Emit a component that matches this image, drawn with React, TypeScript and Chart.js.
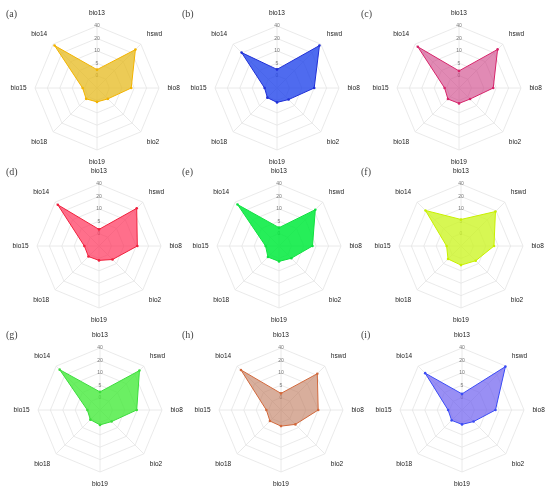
import React, { useEffect, useRef } from 'react';
import { Chart, registerables, RadialLinearScale } from 'chart.js';

Chart.register(...registerables);

// ---- data ----
const AXES = ['bio13', 'hswd', 'bio8', 'bio2', 'bio19', 'bio18', 'bio15', 'bio14'];
const TICK_LABELS = ['0', '5', '10', '20', '40'];
const TICK_VALUES = [-5, 0, 5, 10, 20, 40]; // first = centre of the plot

const PANEL_IDS = ['(a)', '(b)', '(c)', '(d)', '(e)', '(f)', '(g)', '(h)', '(i)'];

const A_VALUES = [2.4, 27.6, 8.8, 1.2, 0.6, 1.2, 0.8, 36.8];
const B_VALUES = [2.5, 36.8, 10.0, 1.6, 0.8, 0.5, 0.0, 20.8];
const C_VALUES = [1.9, 28.0, 8.8, 1.3, 1.2, 1.3, 0.8, 34.0];
const D_VALUES = [1.7, 26.0, 10.9, 2.7, 0.8, 1.0, 0.9, 34.0];
const E_VALUES = [2.4, 22.8, 8.5, 2.0, 1.2, 1.3, 0.4, 34.6];
const F_VALUES = [5.7, 19.3, 8.3, 3.4, 2.7, 2.4, 0.8, 21.0];
const G_VALUES = [2.3, 30.0, 9.8, 1.6, 1.0, 0.5, 0.1, 32.0];
const H_VALUES = [1.7, 22.8, 10.0, 3.2, 1.5, 1.3, 0.9, 31.4];
const I_VALUES = [1.5, 39.0, 8.5, 1.6, 0.8, 0.9, 0.6, 24.0];

const SERIES = [A_VALUES, B_VALUES, C_VALUES, D_VALUES, E_VALUES, F_VALUES, G_VALUES, H_VALUES, I_VALUES];

const BORDERS = ['#F2B300', '#1F2FD6', '#D6246A', '#F0203C', '#10E040', '#C8F000', '#3CDC3C', '#D2693C', '#3A4BF5'];
const FILLS = [
  'rgba(230,185,30,0.75)',
  'rgba(35,70,235,0.8)',
  'rgba(205,60,130,0.6)',
  'rgba(255,50,90,0.7)',
  'rgba(0,235,60,0.85)',
  'rgba(205,245,40,0.8)',
  'rgba(70,235,60,0.8)',
  'rgba(190,120,90,0.6)',
  'rgba(110,95,240,0.7)',
];

// panel centres on the page
const CENTERS: [number, number][] = [
  [97, 88], [277, 88], [459, 88],
  [99, 246], [279, 246], [461, 246],
  [100, 410], [281, 410], [462, 410],
];
const LABEL_POS: [number, number][] = [
  [6, 8], [182, 8], [361, 8],
  [6, 166], [182, 166], [361, 166],
  [6, 329], [182, 329], [361, 329],
];

// ---- layout constants ----
const CW = 180;
const CH = 164;
const CX = 90;
const CY = 82;
const R = 62;

// fix radar centre & radius so every panel is the same size
const proto: any = (RadialLinearScale as any).prototype;
if (!proto.__fixedPatched) {
  const orig = proto.setCenterPoint;
  proto.setCenterPoint = function (l: number, r: number, t: number, b: number) {
    orig.call(this, l, r, t, b);
    this.xCenter = this.left + CX;
    this.yCenter = this.top + CY;
    this.drawingArea = R;
  };
  proto.__fixedPatched = true;
}

// piecewise mapping of a value onto the ring index (0..5)
function toRing(v: number): number {
  for (let i = 0; i < TICK_VALUES.length - 1; i++) {
    const a = TICK_VALUES[i];
    const b = TICK_VALUES[i + 1];
    if (v <= b || i === TICK_VALUES.length - 2) {
      return i + (v - a) / (b - a);
    }
  }
  return 0;
}

function Radar({ idx }: { idx: number }) {
  const ref = useRef<HTMLCanvasElement>(null);
  useEffect(() => {
    if (!ref.current) return;
    const chart = new Chart(ref.current, {
      type: 'radar',
      data: {
        labels: AXES,
        datasets: [
          {
            data: SERIES[idx].map(toRing),
            borderColor: BORDERS[idx],
            backgroundColor: FILLS[idx],
            borderWidth: 1,
            pointRadius: 1.3,
            pointBackgroundColor: BORDERS[idx],
            pointBorderWidth: 0,
            fill: true,
          },
        ],
      },
      options: {
        animation: false,
        responsive: false,
        maintainAspectRatio: false,
        layout: { padding: 0 },
        plugins: { legend: { display: false }, tooltip: { enabled: false } },
        scales: {
          r: {
            min: 0,
            max: 5,
            ticks: {
              stepSize: 1,
              font: { size: 5, family: 'Liberation Sans, Arial, sans-serif' },
              color: '#777',
              backdropColor: 'rgba(255,255,255,0.0)',
              backdropPadding: 1,
              callback: (v: any) => (v >= 1 ? TICK_LABELS[Math.round(v) - 1] : ''),
            },
            grid: { color: '#e4e4e4', lineWidth: 0.8 },
            angleLines: { color: '#e4e4e4', lineWidth: 0.8 },
            pointLabels: {
              font: { size: 6.5, family: 'Liberation Sans, Arial, sans-serif' },
              color: '#222',
              padding: 5,
            },
          },
        },
      },
    });
    return () => chart.destroy();
  }, [idx]);
  const [cx, cy] = CENTERS[idx];
  return (
    <canvas
      ref={ref}
      width={CW}
      height={CH}
      style={{ position: 'absolute', left: cx - CX, top: cy - CY, width: CW, height: CH }}
    />
  );
}

export default function App() {
  return (
    <div
      style={{
        position: 'fixed',
        left: 0,
        top: 0,
        width: 550,
        height: 497,
        background: '#fff',
        overflow: 'hidden',
      }}
    >
      {PANEL_IDS.map((id, i) => (
        <React.Fragment key={id}>
          <Radar idx={i} />
          <span
            style={{
              position: 'absolute',
              left: LABEL_POS[i][0],
              top: LABEL_POS[i][1],
              fontFamily: "'Liberation Serif', 'DejaVu Serif', serif",
              fontSize: 10,
              color: '#444',
              lineHeight: '12px',
            }}
          >
            {id}
          </span>
        </React.Fragment>
      ))}
    </div>
  );
}
